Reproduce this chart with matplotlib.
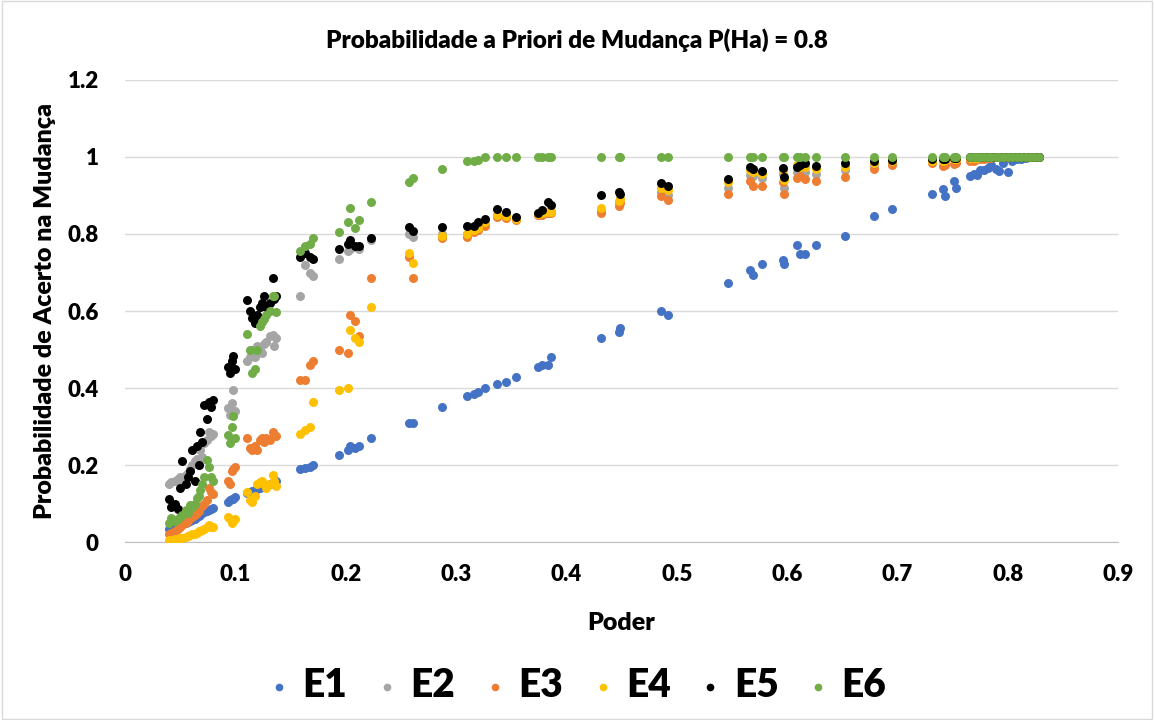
import matplotlib
matplotlib.use("Agg")
import matplotlib.pyplot as plt
from matplotlib.patches import Rectangle
from matplotlib.ticker import FuncFormatter

# shared power values (x) for all six series
poder = [
    0.040, 0.042, 0.045, 0.048, 0.050, 0.052, 0.055, 0.057, 0.059, 0.061,
    0.063, 0.065, 0.067, 0.068, 0.070, 0.072, 0.074, 0.076, 0.078, 0.080,
    0.093, 0.095, 0.097, 0.098, 0.100, 0.111, 0.113, 0.115, 0.118, 0.120,
    0.122, 0.124, 0.126, 0.128, 0.131, 0.134, 0.135, 0.137,
    0.159, 0.163, 0.168, 0.170, 0.194, 0.202, 0.204, 0.208, 0.212, 0.223,
    0.257, 0.261, 0.287, 0.310, 0.316, 0.320, 0.326, 0.337, 0.345, 0.354,
    0.374, 0.378, 0.383, 0.386, 0.431, 0.448, 0.449, 0.486, 0.492, 0.546,
    0.566, 0.569, 0.577, 0.596, 0.597, 0.609, 0.612, 0.616, 0.626, 0.652,
    0.679, 0.695, 0.731, 0.741, 0.743, 0.751, 0.753, 0.766, 0.769, 0.772,
    0.775, 0.778, 0.782, 0.785, 0.789, 0.792, 0.796, 0.800, 0.804, 0.808,
    0.812, 0.816, 0.820, 0.824, 0.828,
]

e1 = [
    0.035, 0.038, 0.040, 0.042, 0.045, 0.047, 0.050, 0.053, 0.055, 0.058,
    0.060, 0.065, 0.068, 0.070, 0.075, 0.078, 0.080, 0.083, 0.085, 0.088,
    0.105, 0.109, 0.111, 0.112, 0.118, 0.128, 0.130, 0.133, 0.135, 0.137,
    0.140, 0.142, 0.145, 0.148, 0.150, 0.153, 0.155, 0.158,
    0.190, 0.192, 0.195, 0.200, 0.225, 0.240, 0.250, 0.245, 0.250, 0.270,
    0.310, 0.310, 0.350, 0.380, 0.385, 0.390, 0.400, 0.410, 0.415, 0.430,
    0.455, 0.460, 0.460, 0.480, 0.530, 0.545, 0.555, 0.600, 0.590, 0.673,
    0.706, 0.694, 0.722, 0.732, 0.722, 0.771, 0.748, 0.748, 0.771, 0.795,
    0.847, 0.865, 0.904, 0.917, 0.899, 0.938, 0.919, 0.950, 0.956, 0.952,
    0.965, 0.966, 0.972, 0.979, 0.970, 0.964, 0.985, 0.962, 0.990, 0.995,
    0.995, 0.998, 1.000, 1.000, 1.000,
]

e2 = [
    0.150, 0.155, 0.160, 0.165, 0.170, 0.160, 0.175, 0.180, 0.190, 0.200,
    0.210, 0.215, 0.200, 0.240, 0.220, 0.257, 0.265, 0.286, 0.275, 0.280,
    0.348, 0.330, 0.360, 0.395, 0.340, 0.470, 0.480, 0.500, 0.480, 0.510,
    0.505, 0.490, 0.515, 0.520, 0.535, 0.538, 0.510, 0.530,
    0.640, 0.720, 0.700, 0.690, 0.735, 0.755, 0.760, 0.765, 0.760, 0.785,
    0.800, 0.792, 0.800, 0.800, 0.810, 0.815, 0.825, 0.850, 0.850, 0.840,
    0.850, 0.852, 0.855, 0.860, 0.860, 0.880, 0.890, 0.910, 0.901, 0.919,
    0.953, 0.950, 0.945, 0.955, 0.919, 0.960, 0.965, 0.961, 0.956, 0.966,
    0.980, 0.985, 0.990, 0.990, 0.990, 0.995, 0.995, 0.996, 0.997, 0.998,
    0.998, 0.999, 1.000, 1.000, 1.000, 1.000, 1.000, 1.000, 1.000, 1.000,
    1.000, 1.000, 1.000, 1.000, 1.000,
]

e3 = [
    0.020, 0.025, 0.030, 0.035, 0.040, 0.045, 0.050, 0.055, 0.062, 0.065,
    0.070, 0.075, 0.080, 0.088, 0.095, 0.100, 0.110, 0.140, 0.130, 0.125,
    0.160, 0.150, 0.185, 0.190, 0.195, 0.270, 0.245, 0.240, 0.250, 0.240,
    0.265, 0.270, 0.260, 0.270, 0.265, 0.285, 0.280, 0.275,
    0.420, 0.420, 0.460, 0.470, 0.500, 0.490, 0.590, 0.575, 0.535, 0.685,
    0.740, 0.685, 0.790, 0.792, 0.805, 0.810, 0.820, 0.844, 0.842, 0.836,
    0.850, 0.849, 0.855, 0.855, 0.855, 0.873, 0.880, 0.899, 0.888, 0.904,
    0.938, 0.925, 0.925, 0.935, 0.904, 0.945, 0.950, 0.943, 0.938, 0.948,
    0.969, 0.979, 0.984, 0.977, 0.980, 0.982, 0.985, 0.990, 0.990, 0.995,
    0.995, 0.996, 0.997, 0.998, 1.000, 1.000, 1.000, 1.000, 1.000, 1.000,
    1.000, 1.000, 1.000, 1.000, 1.000,
]

e4 = [
    0.005, 0.005, 0.008, 0.009, 0.010, 0.012, 0.014, 0.016, 0.018, 0.020,
    0.022, 0.025, 0.028, 0.029, 0.032, 0.035, 0.040, 0.044, 0.040, 0.040,
    0.065, 0.060, 0.050, 0.055, 0.060, 0.130, 0.110, 0.104, 0.120, 0.150,
    0.155, 0.160, 0.150, 0.140, 0.150, 0.175, 0.160, 0.145,
    0.280, 0.290, 0.300, 0.365, 0.395, 0.400, 0.550, 0.530, 0.520, 0.610,
    0.750, 0.725, 0.795, 0.800, 0.810, 0.815, 0.830, 0.850, 0.848, 0.840,
    0.852, 0.855, 0.857, 0.857, 0.868, 0.886, 0.890, 0.920, 0.914, 0.935,
    0.965, 0.960, 0.955, 0.965, 0.940, 0.980, 0.975, 0.975, 0.970, 0.975,
    0.985, 0.990, 0.990, 0.990, 0.992, 0.995, 0.995, 0.997, 0.998, 0.998,
    0.999, 1.000, 1.000, 1.000, 1.000, 1.000, 1.000, 1.000, 1.000, 1.000,
    1.000, 1.000, 1.000, 1.000, 1.000,
]

e5 = [
    0.111, 0.090, 0.100, 0.085, 0.140, 0.210, 0.150, 0.170, 0.184, 0.240,
    0.160, 0.250, 0.200, 0.286, 0.260, 0.357, 0.320, 0.363, 0.350, 0.370,
    0.455, 0.440, 0.470, 0.483, 0.450, 0.628, 0.600, 0.582, 0.570, 0.590,
    0.610, 0.620, 0.640, 0.610, 0.620, 0.686, 0.630, 0.640,
    0.740, 0.750, 0.740, 0.735, 0.761, 0.775, 0.784, 0.770, 0.769, 0.790,
    0.818, 0.808, 0.818, 0.821, 0.821, 0.831, 0.839, 0.865, 0.857, 0.844,
    0.855, 0.862, 0.883, 0.875, 0.901, 0.909, 0.905, 0.932, 0.925, 0.943,
    0.974, 0.969, 0.964, 0.971, 0.948, 0.974, 0.980, 0.984, 0.977, 0.984,
    0.990, 0.992, 0.995, 0.995, 0.996, 0.997, 0.998, 0.999, 1.000, 1.000,
    1.000, 1.000, 1.000, 1.000, 1.000, 1.000, 1.000, 1.000, 1.000, 1.000,
    1.000, 1.000, 1.000, 1.000, 1.000,
]

e6 = [
    0.050, 0.062, 0.055, 0.060, 0.065, 0.070, 0.083, 0.075, 0.096, 0.090,
    0.100, 0.114, 0.120, 0.135, 0.150, 0.168, 0.213, 0.195, 0.168, 0.160,
    0.278, 0.258, 0.300, 0.327, 0.270, 0.540, 0.500, 0.440, 0.450, 0.500,
    0.560, 0.571, 0.580, 0.590, 0.600, 0.640, 0.640, 0.597,
    0.755, 0.770, 0.775, 0.790, 0.805, 0.830, 0.868, 0.815, 0.836, 0.883,
    0.935, 0.945, 0.970, 0.990, 0.990, 0.993, 1.000, 1.000, 1.000, 1.000,
    1.000, 1.000, 1.000, 1.000, 1.000, 1.000, 1.000, 1.000, 1.000, 1.000,
    1.000, 1.000, 1.000, 1.000, 1.000, 1.000, 1.000, 1.000, 1.000, 1.000,
    1.000, 1.000, 1.000, 1.000, 1.000, 1.000, 1.000, 1.000, 1.000, 1.000,
    1.000, 1.000, 1.000, 1.000, 1.000, 1.000, 1.000, 1.000, 1.000, 1.000,
    1.000, 1.000, 1.000, 1.000, 1.000,
]

series = [
    ("E1", e1, "#4472C4"),
    ("E2", e2, "#A5A5A5"),
    ("E3", e3, "#ED7D31"),
    ("E4", e4, "#FFC000"),
    ("E5", e5, "#000000"),
    ("E6", e6, "#70AD47"),
]

plt.rcParams["font.family"] = ["Lato", "DejaVu Sans"]

fig = plt.figure(figsize=(11.54, 7.2), dpi=100)
ax = fig.add_axes([0.1083, 0.247, 0.8607, 0.642])

for name, vals, color in series:
    ax.scatter(poder, vals, s=42, color=color, label=name, linewidths=0, zorder=3)

ax.set_xlim(0, 0.9)
ax.set_ylim(0, 1.2)
ax.set_xticks([i / 10 for i in range(10)])
ax.set_yticks([i / 5 for i in range(7)])
fmt = FuncFormatter(lambda v, _: f"{v:g}")
ax.xaxis.set_major_formatter(fmt)
ax.yaxis.set_major_formatter(fmt)
ax.tick_params(axis="x", length=0, labelsize=16, pad=16)
ax.tick_params(axis="y", length=0, labelsize=16, pad=19)
for lbl in ax.get_xticklabels() + ax.get_yticklabels():
    lbl.set_fontweight("heavy")

ax.grid(True, axis="y", color="#D9D9D9", linewidth=1, zorder=0)
for side in ["top", "right", "left"]:
    ax.spines[side].set_visible(False)
ax.spines["bottom"].set_color("#BFBFBF")

ax.set_xlabel("Poder", fontsize=18, fontweight="heavy", labelpad=19)
ax.set_ylabel("Probabilidade de Acerto na Mudança", fontsize=18, fontweight="heavy", labelpad=8)
fig.text(0.5, 0.944, "Probabilidade a Priori de Mudança P(Ha) = 0.8",
         ha="center", va="center", fontsize=17.5, fontweight="heavy")

fig.legend(loc="center", bbox_to_anchor=(0.5, 0.048), ncol=6, frameon=False,
           prop={"size": 28, "weight": "heavy"}, handlelength=0.6,
           handletextpad=0.3, columnspacing=0.72, markerscale=0.85)

fig.add_artist(Rectangle((0.002, 0.002), 0.996, 0.996, transform=fig.transFigure,
                         fill=False, edgecolor="#D9D9D9", linewidth=1))

fig.savefig("out.png", dpi=100)
